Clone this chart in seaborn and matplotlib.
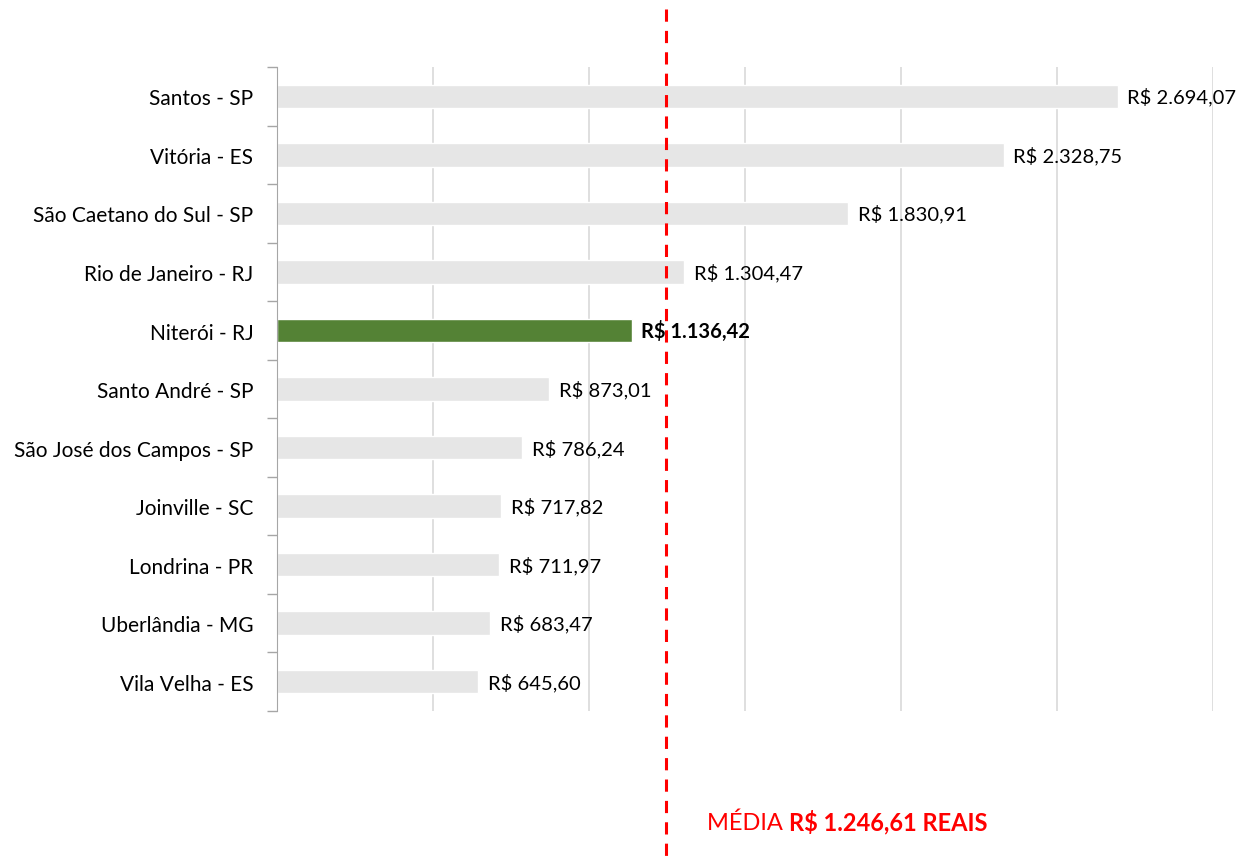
import pandas as pd
import matplotlib
matplotlib.use('Agg')
import matplotlib.pyplot as plt
import seaborn as sns

# Dados do gráfico
cidades = ["Santos - SP", "Vitória - ES", "São Caetano do Sul - SP", "Rio de Janeiro - RJ",
           "Niterói - RJ", "Santo André - SP", "São José dos Campos - SP", "Joinville - SC",
           "Londrina - PR", "Uberlândia - MG", "Vila Velha - ES"]
valores = [2694.07, 2328.75, 1830.91, 1304.47, 1136.42, 873.01, 786.24, 717.82, 711.97, 683.47, 645.60]
rotulos = ["R$ 2.694,07", "R$ 2.328,75", "R$ 1.830,91", "R$ 1.304,47", "R$ 1.136,42", "R$ 873,01",
           "R$ 786,24", "R$ 717,82", "R$ 711,97", "R$ 683,47", "R$ 645,60"]
destaque = "Niterói - RJ"
media = 1246.61

sns.set_style('white')
plt.rcParams['font.family'] = ['Lato', 'DejaVu Sans']

df = pd.DataFrame({'cidade': cidades, 'valor': valores})
cores = {c: ('#548235' if c == destaque else '#e6e6e6') for c in cidades}

fig = plt.figure(figsize=(12.39, 8.62), dpi=100)
ax = fig.add_axes([0.2236, 0.174, 0.7555, 0.747])

sns.barplot(data=df, x='valor', y='cidade', hue='cidade', palette=cores, legend=False,
            width=0.4, saturation=1, ax=ax, orient='h')

ax.set_xlim(0, 3000)
ax.set_ylim(len(cidades) - 0.5, -0.5)
ax.set_xticks(range(0, 3001, 500))
ax.set_xticklabels([])
ax.tick_params(axis='x', length=0)
ax.grid(axis='x', color='#d9d9d9', linewidth=1.2)
ax.set_axisbelow(True)
ax.set_xlabel('')
ax.set_ylabel('')

# ticks entre as categorias
ax.set_yticks([i - 0.5 for i in range(len(cidades) + 1)], minor=True)
ax.tick_params(axis='y', which='minor', left=True, length=7, color='#a6a6a6', width=1)
ax.tick_params(axis='y', which='major', length=0, pad=17, labelsize=15, labelcolor='black')

for s in ['top', 'right', 'bottom']:
    ax.spines[s].set_visible(False)
ax.spines['left'].set_color('#a6a6a6')

# rótulos dos valores
for i, (c, v, r) in enumerate(zip(cidades, valores, rotulos)):
    ax.annotate(r, xy=(v, i), xytext=(7, 0), textcoords='offset points', va='center', ha='left',
                fontsize=14.5, color='black', fontweight='bold' if c == destaque else 'normal')

# linha da média
ax.plot([media, media], [-1.5, 13.4], color='red', linestyle=(0, (4, 3)), linewidth=2.2, clip_on=False)

t1 = fig.text(0.571, 0.037, 'MÉDIA ', color='red', fontsize=17)
ax.annotate('R$ 1.246,61 REAIS', xy=(1, 0), xycoords=t1, va='bottom', ha='left',
            color='red', fontsize=17, fontweight='bold')

plt.savefig('out.png', dpi=100)
